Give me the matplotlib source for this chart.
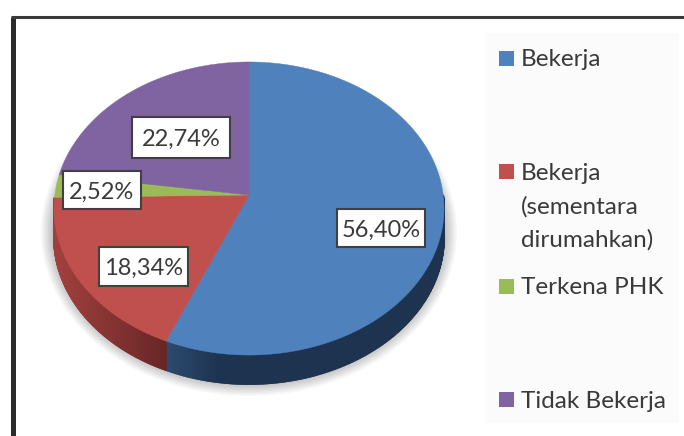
import matplotlib.pyplot as plt
import numpy as np
from matplotlib.patches import Polygon, Rectangle

plt.rcParams["font.family"] = ["Lato", "DejaVu Sans"]

categories = ["Bekerja", "Bekerja\n(sementara\ndirumahkan)", "Terkena PHK", "Tidak Bekerja"]
values = [56.40, 18.34, 2.52, 22.74]
colors = ["#4f81bd", "#c0504d", "#9bbb59", "#8064a2"]

# label box per slice: left, top, right, bottom in image pixels
label_boxes = [(337, 209, 425, 247), (99, 247, 188, 286), (63, 171, 141, 209), (132, 117, 230, 158)]
# first text line of each legend entry, and the marker top
legend_text_y = [58, 171, 285, 399]
legend_marker_y = [51, 164, 279, 392]

CX, CY = 249, 195
TILT = 0.0922
RX, RY = 194.2, 145.3
DEPTH = 29


def project(theta):
    """Circle angle (clockwise from 12 o'clock) to tilted pie pixels"""
    u, v = np.sin(theta), np.cos(theta)
    w = 1 + TILT * v
    return CX + RX * u / w, CY - RY * v / w


def wall_color(name, x):
    if name == "blue":
        t = np.clip((x - 168) / 50, 0, 1)
        return (1 - t) * np.array([0.17, 0.29, 0.43]) + t * np.array([0.115, 0.2, 0.315])
    t = np.clip((x - 60) / 105, 0, 1)
    return (1 - t) * np.array([0.62, 0.25, 0.24]) + t * np.array([0.41, 0.15, 0.145])


fig = plt.figure(figsize=(6.84, 4.36), dpi=100)
ax = fig.add_axes([0, 0, 1, 1])
ax.set_xlim(0, 684)
ax.set_ylim(436, 0)
ax.axis("off")

# frame, cropped on the right and at the bottom
ax.plot([13, 13], [436, 17], color="#2b2b2b", lw=3.6, solid_capstyle="butt")
ax.plot([11, 684], [17, 17], color="#3a3a3a", lw=2.2, solid_capstyle="butt")

# soft shadow under the pie
angles = np.linspace(0, 2 * np.pi, 240)
for k in np.linspace(1.0, 0.0, 14):
    sx = 190 + 18 * k
    sy = 146 + 18 * k
    pts = np.column_stack([249 + sx * np.cos(angles), 232 + sy * np.sin(angles)])
    ax.add_patch(Polygon(pts, fc="black", ec="none", alpha=0.028, zorder=1))

# slice angles from the values
edges = np.cumsum([0] + values) / 100 * 2 * np.pi

# side wall, front part only (the back of the blue slice stays hidden)
for i, name in [(0, "blue"), (1, "red")]:
    steps = np.linspace(max(edges[i], np.pi / 2), edges[i + 1], 220)
    for a, b in zip(steps[:-1], steps[1:]):
        xa, ya = project(a)
        xb, yb = project(b)
        quad = [(xa, ya), (xb, yb), (xb, yb + DEPTH), (xa, ya + DEPTH)]
        c = wall_color(name, (xa + xb) / 2)
        ax.add_patch(Polygon(quad, fc=c, ec=c, lw=1.2, zorder=2))

# top face
for i, color in enumerate(colors):
    theta = np.linspace(edges[i], edges[i + 1], 200)
    x, y = project(theta)
    pts = np.column_stack([np.r_[CX, x], np.r_[CY, y]])
    ax.add_patch(Polygon(pts, fc=color, ec=color, lw=0.3, zorder=3))

# value labels
for value, (left, top, right, bottom) in zip(values, label_boxes):
    ax.add_patch(Rectangle((left, top), right - left, bottom - top, fc="white", ec="#404040", lw=1.5, zorder=4))
    ax.text((left + right) / 2, (top + bottom) / 2, f"{value:.2f}%".replace(".", ","),
            ha="center", va="center_baseline", fontsize=17, color="#3a3a3a", zorder=5)

# legend
ax.add_patch(Rectangle((485, 33), 194, 390, fc="#fbfbfb", ec="none", zorder=1))
for name, color, ty, my in zip(categories, colors, legend_text_y, legend_marker_y):
    ax.add_patch(Rectangle((499, my), 15, 15, fc=color, ec="none", zorder=2))
    for n, line in enumerate(name.split("\n")):
        ax.text(521, ty + 33.5 * n, line, ha="left", va="center_baseline", fontsize=17.5, color="#3a3a3a", zorder=3)

fig.savefig("out.png", dpi=100)
